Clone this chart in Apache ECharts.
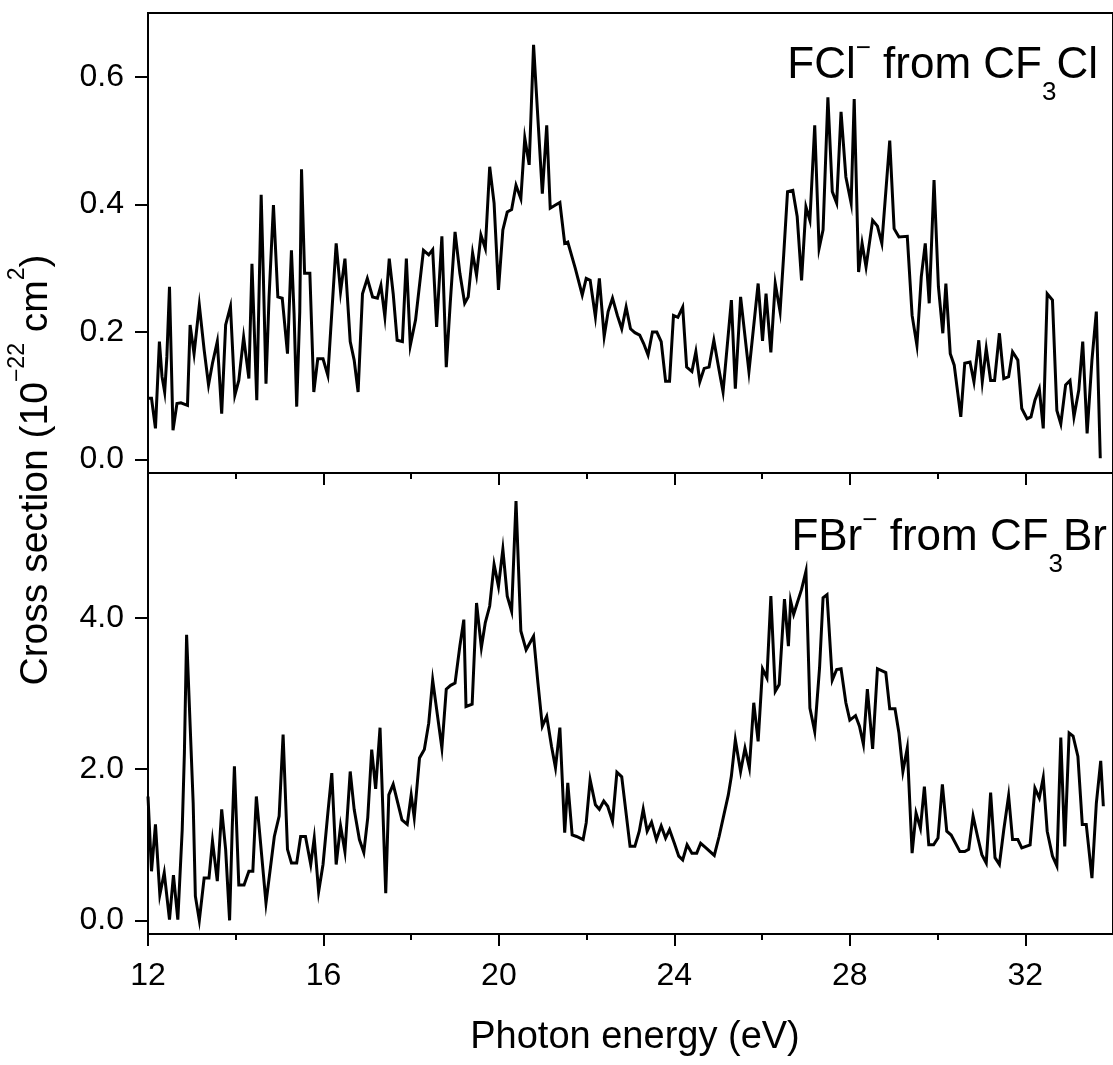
<!DOCTYPE html>
<html>
<head>
<meta charset="utf-8">
<script src="https://cdn.jsdelivr.net/npm/echarts/dist/echarts.min.js"></script>
<style>
html,body{margin:0;padding:0;background:#ffffff;}
#chart{width:1113px;height:1065px;}
</style>
</head>
<body>
<div id="chart"></div>
<script>
// ---- data ----
const topEnergy = [12.02,12.08,12.17,12.26,12.32,12.38,12.43,12.49,12.57,12.66,12.75,12.90,12.96,13.05,13.17,13.28,13.38,13.47,13.58,13.68,13.77,13.88,13.98,14.07,14.18,14.30,14.37,14.48,14.54,14.58,14.63,14.69,14.76,14.86,14.96,15.06,15.18,15.27,15.33,15.39,15.46,15.50,15.57,15.69,15.78,15.87,15.99,16.10,16.29,16.39,16.49,16.61,16.70,16.79,16.89,17.00,17.12,17.23,17.31,17.40,17.50,17.59,17.68,17.80,17.89,17.98,18.10,18.28,18.40,18.49,18.58,18.70,18.80,18.89,19.00,19.11,19.22,
19.30,19.40,19.49,19.59,19.69,19.79,19.89,19.99,20.09,20.19,20.29,20.39,20.50,20.59,20.69,20.79,20.99,21.09,21.17,21.29,21.39,21.50,21.57,21.74,21.90,21.99,22.08,22.20,22.29,22.40,22.49,22.59,22.70,22.80,22.90,23.00,23.10,23.21,23.30,23.40,23.50,23.60,23.70,23.80,23.89,23.98,24.08,24.19,24.28,24.40,24.49,24.58,24.68,24.79,24.90,25.02,25.11,25.30,25.39,25.51,25.70,25.91,26.01,26.09,26.20,26.30,26.41,26.49,26.58,
26.70,26.80,26.90,27.00,27.09,27.20,27.30,27.39,27.50,27.60,27.70,27.80,27.91,28.03,28.10,28.20,28.28,28.37,28.52,28.63,28.73,28.91,29.01,29.12,29.31,29.42,29.53,29.63,29.72,29.81,29.92,30.02,30.12,30.19,30.29,30.38,30.53,30.62,30.74,30.83,30.94,31.02,31.11,31.21,31.30,31.41,31.51,31.62,31.71,31.83,31.92,32.04,32.13,32.22,32.32,32.41,32.50,32.62,32.72,32.81,32.92,33.02,33.11,33.22,33.31,33.41,33.52,33.62,33.71];
const topValue = [0.096,0.096,0.049,0.185,0.130,0.106,0.161,0.271,0.046,0.088,0.089,0.085,0.211,0.166,0.242,0.172,0.117,0.151,0.185,0.072,0.211,0.240,0.101,0.124,0.192,0.127,0.307,0.093,0.287,0.415,0.287,0.119,0.255,0.399,0.255,0.253,0.166,0.328,0.229,0.083,0.232,0.455,0.292,0.292,0.106,0.158,0.158,0.132,0.339,0.263,0.315,0.185,0.156,0.106,0.260,0.284,0.255,0.253,0.273,0.224,0.315,0.260,0.187,0.185,0.315,0.179,0.219,0.328,0.321,0.329,0.208,0.350,0.145,0.245,0.357,0.292,0.245,
0.255,0.324,0.289,0.352,0.331,0.459,0.402,0.266,0.360,0.388,0.392,0.430,0.409,0.504,0.462,0.650,0.417,0.524,0.394,0.399,0.403,0.339,0.341,0.300,0.258,0.284,0.281,0.224,0.284,0.193,0.232,0.253,0.226,0.205,0.239,0.205,0.199,0.195,0.182,0.164,0.200,0.200,0.185,0.123,0.123,0.226,0.223,0.239,0.145,0.138,0.169,0.122,0.143,0.145,0.187,0.140,0.106,0.250,0.111,0.255,0.138,0.276,0.186,0.260,0.168,0.276,0.232,0.318,0.420,
0.422,0.381,0.281,0.396,0.375,0.524,0.331,0.360,0.568,0.420,0.402,0.545,0.443,0.402,0.565,0.294,0.339,0.302,0.375,0.366,0.339,0.500,0.362,0.349,0.350,0.226,0.179,0.287,0.339,0.245,0.438,0.271,0.198,0.276,0.166,0.148,0.067,0.151,0.153,0.122,0.187,0.122,0.174,0.124,0.124,0.198,0.127,0.130,0.169,0.156,0.080,0.064,0.067,0.093,0.111,0.049,0.260,0.250,0.077,0.056,0.117,0.124,0.067,0.109,0.185,0.041,0.156,0.232,0.002];

const botEnergy = [12.00,12.08,12.17,12.27,12.37,12.49,12.58,12.68,12.78,12.83,12.88,13.03,13.08,13.17,13.28,13.39,13.47,13.58,13.68,13.77,13.86,13.92,13.97,14.07,14.19,14.30,14.39,14.47,14.69,14.88,14.99,15.08,15.18,15.27,15.39,15.48,15.59,15.71,15.79,15.89,15.99,16.10,16.19,16.29,16.39,16.49,16.61,16.70,16.82,16.92,17.01,17.10,17.19,17.29,17.42,17.49,17.59,17.79,17.91,18.00,18.07,18.19,18.30,18.40,18.49,18.70,18.80,18.90,19.00,19.11,19.20,19.25,
19.39,19.49,19.60,19.69,19.79,19.89,19.99,20.09,20.19,20.29,20.39,20.50,20.62,20.79,20.89,20.99,21.09,21.20,21.29,21.39,21.50,21.57,21.67,21.77,21.92,21.99,22.08,22.20,22.29,22.39,22.48,22.59,22.69,22.80,22.99,23.10,23.20,23.29,23.38,23.48,23.59,23.70,23.80,23.89,24.00,24.10,24.19,24.29,24.40,24.51,24.60,24.72,24.91,25.02,25.13,25.23,25.30,25.39,25.51,25.61,25.71,25.81,25.91,26.01,26.11,26.20,26.30,26.39,26.51,26.60,
26.65,26.72,26.79,26.90,27.00,27.09,27.20,27.31,27.39,27.48,27.60,27.70,27.80,27.91,28.00,28.13,28.22,28.31,28.40,28.52,28.63,28.82,28.91,29.03,29.12,29.21,29.31,29.42,29.51,29.61,29.70,29.80,29.91,30.01,30.11,30.21,30.31,30.51,30.62,30.71,30.81,30.92,31.01,31.11,31.21,31.31,31.41,31.51,31.62,31.71,31.83,31.92,32.11,32.22,32.32,32.41,32.50,32.62,32.72,32.81,32.90,33.00,33.09,33.20,33.30,33.39,33.52,33.62,33.72,33.78];
const botValue = [1.64,0.65,1.27,0.34,0.63,0.01,0.60,0.01,1.20,2.22,3.78,1.55,0.32,0.00,0.56,0.56,1.05,0.52,1.47,0.94,0.00,1.22,2.04,0.47,0.47,0.65,0.65,1.64,0.23,1.11,1.38,2.46,0.94,0.76,0.76,1.11,1.11,0.74,1.09,0.38,0.74,1.42,1.95,0.74,1.25,0.91,1.97,1.47,1.07,0.90,1.36,2.26,1.74,2.55,0.36,1.66,1.80,1.33,1.27,1.66,1.36,2.15,2.26,2.61,3.18,2.28,3.06,3.11,3.14,3.63,3.98,2.83,
2.86,4.20,3.61,3.94,4.16,4.71,4.42,4.91,4.29,4.09,5.55,3.83,3.58,3.76,3.14,2.57,2.70,2.30,2.02,2.55,1.16,1.82,1.13,1.11,1.07,1.29,1.86,1.53,1.47,1.58,1.51,1.31,1.96,1.90,0.98,0.98,1.18,1.47,1.18,1.30,1.07,1.25,1.09,1.20,1.02,0.85,0.80,1.00,0.89,0.89,1.02,0.96,0.86,1.11,1.40,1.66,1.91,2.39,1.97,2.28,2.02,2.88,2.37,3.33,3.21,4.29,3.03,3.12,4.25,3.63,
4.23,4.05,4.18,4.38,4.62,2.81,2.50,3.34,4.27,4.31,3.18,3.32,3.33,2.88,2.65,2.71,2.57,2.33,3.06,2.27,3.33,3.28,2.80,2.80,2.48,1.97,2.28,0.89,1.42,1.22,1.77,1.00,1.00,1.09,1.80,1.18,1.13,0.91,0.91,0.94,1.38,1.09,0.87,0.76,1.69,0.83,0.74,1.20,1.65,1.07,1.07,0.96,1.00,1.75,1.62,1.89,1.18,0.85,0.72,2.42,0.98,2.48,2.44,2.17,1.27,1.27,0.56,1.55,2.11,1.51];

const xMajorTicks = [12, 16, 20, 24, 28, 32];
const xMinorTicks = [14, 18, 22, 26, 30];
const topYTicks = [0, 0.2, 0.4, 0.6];
const botYTicks = [0, 2, 4];

const xTitle = 'Photon energy (eV)';
const yTitleRich = '{m|Cross section (10}{sup|\u221222}{m| cm}{sup|2}{m|)}';
const topLabelRich = '{m|FCl}{sup|\u2212}{m| from CF}{sub|3}{m|Cl}';
const botLabelRich = '{m|FBr}{sup|\u2212}{m| from CF}{sub|3}{m|Br}';

// ---- chart ----
const FONT = "'Liberation Sans', Arial, sans-serif";
const BLACK = '#000000';

function majorX(gridIndex, labels) {
  return {
    type: 'value', gridIndex: gridIndex, min: 12, max: 34, position: 'bottom',
    axisLine: { show: true, onZero: false, lineStyle: { color: BLACK, width: 2 } },
    axisTick: { show: true, inside: false, length: 12, customValues: xMajorTicks, lineStyle: { color: BLACK, width: 2 } },
    axisLabel: { show: labels, customValues: xMajorTicks, color: BLACK, fontSize: 32, fontFamily: FONT, margin: 26 },
    splitLine: { show: false }
  };
}
function minorX(gridIndex) {
  return {
    type: 'value', gridIndex: gridIndex, min: 12, max: 34, position: 'bottom',
    axisLine: { show: false, onZero: false },
    axisTick: { show: true, inside: false, length: 6, customValues: xMinorTicks, lineStyle: { color: BLACK, width: 2 } },
    axisLabel: { show: false },
    splitLine: { show: false }
  };
}
function yAx(gridIndex, min, max, ticks) {
  return {
    type: 'value', gridIndex: gridIndex, min: min, max: max,
    axisLine: { show: true, onZero: false, lineStyle: { color: BLACK, width: 2 } },
    axisTick: { show: true, inside: false, length: 13, customValues: ticks, lineStyle: { color: BLACK, width: 2 } },
    axisLabel: { customValues: ticks, color: BLACK, fontSize: 32, fontFamily: FONT, margin: 24,
                 formatter: function (v) { return Number(v).toFixed(1); } },
    splitLine: { show: false }
  };
}

function pairs(xs, ys) { return xs.map(function (x, i) { return [x, ys[i]]; }); }

const mainRich = function (fs, lh, sfs, subPad) {
  return {
    m: { fontSize: fs, fontFamily: FONT, color: BLACK, lineHeight: lh, verticalAlign: 'bottom' },
    sup: { fontSize: sfs, fontFamily: FONT, color: BLACK, lineHeight: sfs, verticalAlign: 'top' },
    sub: { fontSize: sfs, fontFamily: FONT, color: BLACK, lineHeight: sfs, verticalAlign: 'top', padding: [subPad, 0, 0, 0] }
  };
};

const chart = echarts.init(document.getElementById('chart'), null, { renderer: 'canvas' });
chart.setOption({
  animation: false,
  backgroundColor: '#ffffff',
  grid: [
    { left: 148, top: 13, width: 975, height: 460, show: true, borderColor: BLACK, borderWidth: 2, backgroundColor: 'transparent' },
    { left: 148, top: 473, width: 975, height: 461, show: true, borderColor: BLACK, borderWidth: 2, backgroundColor: 'transparent' }
  ],
  xAxis: [majorX(0, false), minorX(0), majorX(1, true), minorX(1)],
  yAxis: [yAx(0, -0.021, 0.70, topYTicks), yAx(1, -0.18, 5.92, botYTicks)],
  series: [
    { type: 'line', xAxisIndex: 0, yAxisIndex: 0, data: pairs(topEnergy, topValue), symbol: 'none', showSymbol: false,
      lineStyle: { color: BLACK, width: 3, join: 'miter' }, clip: true },
    { type: 'line', xAxisIndex: 2, yAxisIndex: 1, data: pairs(botEnergy, botValue), symbol: 'none', showSymbol: false,
      lineStyle: { color: BLACK, width: 3, join: 'miter' }, clip: true }
  ],
  graphic: [
    { type: 'text', x: 1098, y: 36, z: 100,
      style: { text: topLabelRich, rich: mainRich(44, 52, 26, 44), align: 'right', verticalAlign: 'top', textAlign: 'right', textVerticalAlign: 'top' } },
    { type: 'text', x: 1107, y: 508, z: 100,
      style: { text: botLabelRich, rich: mainRich(44, 52, 26, 44), align: 'right', verticalAlign: 'top', textAlign: 'right', textVerticalAlign: 'top' } },
    { type: 'text', x: 6, y: 470, rotation: Math.PI / 2, z: 100,
      style: { text: yTitleRich, rich: mainRich(39, 50, 23, 30), align: 'center', verticalAlign: 'top', textAlign: 'center', textVerticalAlign: 'top' } },
    { type: 'text', x: 635, y: 1019, z: 100,
      style: { text: xTitle, fontSize: 38, fontFamily: FONT, fill: BLACK, align: 'center', verticalAlign: 'top', textAlign: 'center', textVerticalAlign: 'top' } }
  ]
});
</script>
</body>
</html>
